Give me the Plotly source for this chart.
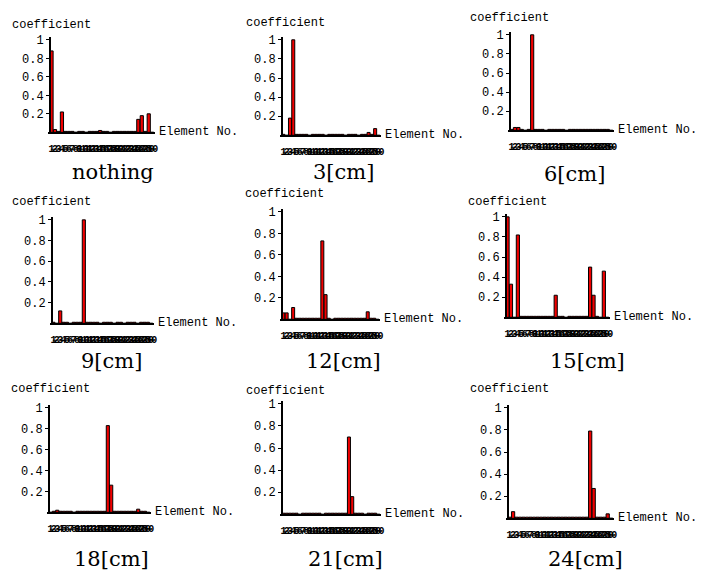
import plotly.graph_objects as go

elements = list(range(1, 31))
tick_labels = [str(e) for e in elements]
y_ticks = [0.2, 0.4, 0.6, 0.8, 1.0]
y_tick_labels = ["0.2", "0.4", "0.6", "0.8", "1"]

captions = ["nothing", "3[cm]", "6[cm]", "9[cm]", "12[cm]", "15[cm]", "18[cm]", "21[cm]", "24[cm]"]

v_nothing = [0.88, 0.03, 0.01, 0.22, 0.01, 0.01, 0.01, 0, 0.01, 0.01, 0, 0.01, 0.01, 0.01, 0.02,
             0.01, 0.01, 0, 0.01, 0.01, 0.01, 0.01, 0.01, 0.01, 0.01, 0.14, 0.18, 0.01, 0.20, 0]
v_3cm = [0.01, 0, 0.18, 1.0, 0.01, 0.01, 0.01, 0.01, 0, 0.01, 0.01, 0.01, 0.01, 0, 0.01,
         0.01, 0.01, 0.01, 0.01, 0, 0.01, 0.01, 0.01, 0, 0.01, 0.01, 0.03, 0.01, 0.07, 0]
v_6cm = [0.01, 0.03, 0.03, 0.01, 0, 0.01, 1.0, 0.01, 0.01, 0.01, 0, 0.01, 0.01, 0.01, 0.01,
         0.01, 0, 0.01, 0.01, 0.01, 0.01, 0.01, 0.01, 0.01, 0.01, 0.01, 0.01, 0.01, 0.01, 0]
v_9cm = [0.01, 0, 0.12, 0.01, 0.01, 0, 0.01, 0.01, 0.01, 1.0, 0.01, 0.01, 0.01, 0.01, 0,
         0.01, 0.01, 0.01, 0, 0.01, 0.01, 0, 0.01, 0.01, 0.01, 0, 0.01, 0.01, 0.01, 0]
v_12cm = [0.06, 0.06, 0, 0.11, 0.01, 0.01, 0.01, 0.01, 0.01, 0.01, 0.01, 0.01, 0.73, 0.23, 0.01,
          0, 0.01, 0.01, 0.01, 0.01, 0.01, 0.01, 0.01, 0.01, 0.01, 0.01, 0.07, 0.01, 0.01, 0]
v_15cm = [1.0, 0.33, 0, 0.82, 0.01, 0.01, 0.01, 0.01, 0.01, 0.01, 0.01, 0.01, 0.01, 0.01, 0.22,
          0.01, 0.01, 0, 0.01, 0.01, 0.01, 0.01, 0.01, 0.01, 0.50, 0.22, 0.01, 0, 0.46, 0]
v_18cm = [0, 0.01, 0.02, 0.01, 0.01, 0.01, 0.01, 0, 0.01, 0.01, 0.01, 0.01, 0.01, 0.01, 0.01,
          0.01, 0.01, 0.83, 0.26, 0.01, 0.01, 0.01, 0.01, 0.01, 0.01, 0.01, 0.03, 0.01, 0.01, 0]
v_21cm = [0.01, 0.01, 0.01, 0.01, 0.01, 0, 0.01, 0.01, 0.01, 0.01, 0.01, 0.01, 0, 0.01, 0.01,
          0.01, 0.01, 0.01, 0.01, 0.01, 0.70, 0.16, 0.01, 0.01, 0.01, 0, 0.01, 0.01, 0.01, 0]
v_24cm = [0.01, 0.06, 0.01, 0.01, 0.01, 0.01, 0.01, 0.01, 0.01, 0.01, 0.01, 0.01, 0.01, 0.01, 0.01,
          0.01, 0.01, 0.01, 0.01, 0.01, 0.01, 0.01, 0.01, 0.79, 0.27, 0.01, 0.01, 0.01, 0.04, 0]

series = [v_nothing, v_3cm, v_6cm, v_9cm, v_12cm, v_15cm, v_18cm, v_21cm, v_24cm]

W, H = 702, 572
# pixel geometry per panel: y-axis x, x-axis end, y of value 1, y of baseline
geom = [
    (50, 156, 37, 130), (283, 383, 37, 133), (512, 617, 32, 128),
    (52, 155, 218, 322), (283, 382, 210, 318), (508, 613, 215, 316),
    (49, 152, 407, 512), (283, 383, 403, 514), (510, 617, 407, 518),
]
coef_pos = [(10, 22), (245, 20), (470, 15), (10, 200), (244, 192), (468, 200),
            (9, 388), (245, 390), (470, 388)]
cap_pos = [(113, 170), (345, 170), (577, 172), (112, 360), (345, 360), (590, 360),
           (112, 559), (347, 559), (588, 559)]

mono = "Liberation Mono"
fig = go.Figure()
layout = dict(width=W, height=H, margin=dict(l=0, r=0, t=0, b=0),
              paper_bgcolor="white", plot_bgcolor="white", showlegend=False)
annotations = []
shapes = []
XR = [0.1, 30.9]
YMAX = 1.03
for i, (vals, (ox, ex, t1, by)) in enumerate(zip(series, geom)):
    k = "" if i == 0 else str(i + 1)
    s = (ex - ox) / 30.4
    xd = [(ox - 0.4 * s) / W, ex / W]
    ytop_px = by - YMAX * (by - t1)
    yd = [1 - by / H, 1 - ytop_px / H]
    fig.add_trace(go.Bar(x=elements, y=vals, width=0.92,
                         marker=dict(color="#f00000", line=dict(color="black", width=1)),
                         xaxis="x" + k, yaxis="y" + k))
    layout["xaxis" + k] = dict(domain=xd, range=XR, anchor="y" + k, showline=True,
                               linecolor="black", linewidth=2, showgrid=False, zeroline=False,
                               tickmode="array", tickvals=elements, ticktext=tick_labels,
                               tickangle=0, ticks="", ticklabelstandoff=6,
                               tickfont=dict(family=mono, size=10, color="black", weight="bold"))
    layout["yaxis" + k] = dict(domain=yd, range=[0, YMAX], anchor="free", position=ox / W,
                               showline=True, linecolor="black", linewidth=1.5, showgrid=False,
                               zeroline=False, tickmode="array", tickvals=y_ticks,
                               ticktext=y_tick_labels, ticks="outside", ticklen=3,
                               tickcolor="black",
                               tickfont=dict(family=mono, size=12, color="black"))
    # underline beneath the crowded tick-label block
    shapes.append(dict(type="line", xref="paper", yref="paper",
                       x0=(ox + 1) / W, x1=(ex + 1) / W, y0=1 - (by + 17) / H, y1=1 - (by + 17) / H,
                       line=dict(color="black", width=1)))
    cx, cy = coef_pos[i]
    annotations.append(dict(text="coefficient", x=cx / W, y=1 - cy / H, xref="paper", yref="paper",
                            xanchor="left", yanchor="middle", showarrow=False,
                            font=dict(family=mono, size=12, color="black")))
    annotations.append(dict(text="Element No.", x=(ex + 2) / W, y=1 - by / H, xref="paper",
                            yref="paper", xanchor="left", yanchor="middle", showarrow=False,
                            font=dict(family=mono, size=12, color="black")))
    px, py = cap_pos[i]
    annotations.append(dict(text=captions[i], x=px / W, y=1 - py / H, xref="paper", yref="paper",
                            xanchor="center", yanchor="middle", showarrow=False,
                            font=dict(family="DejaVu Serif", size=21, color="black")))

layout["annotations"] = annotations
layout["shapes"] = shapes
fig.update_layout(**layout)
fig.write_html("out.html")
